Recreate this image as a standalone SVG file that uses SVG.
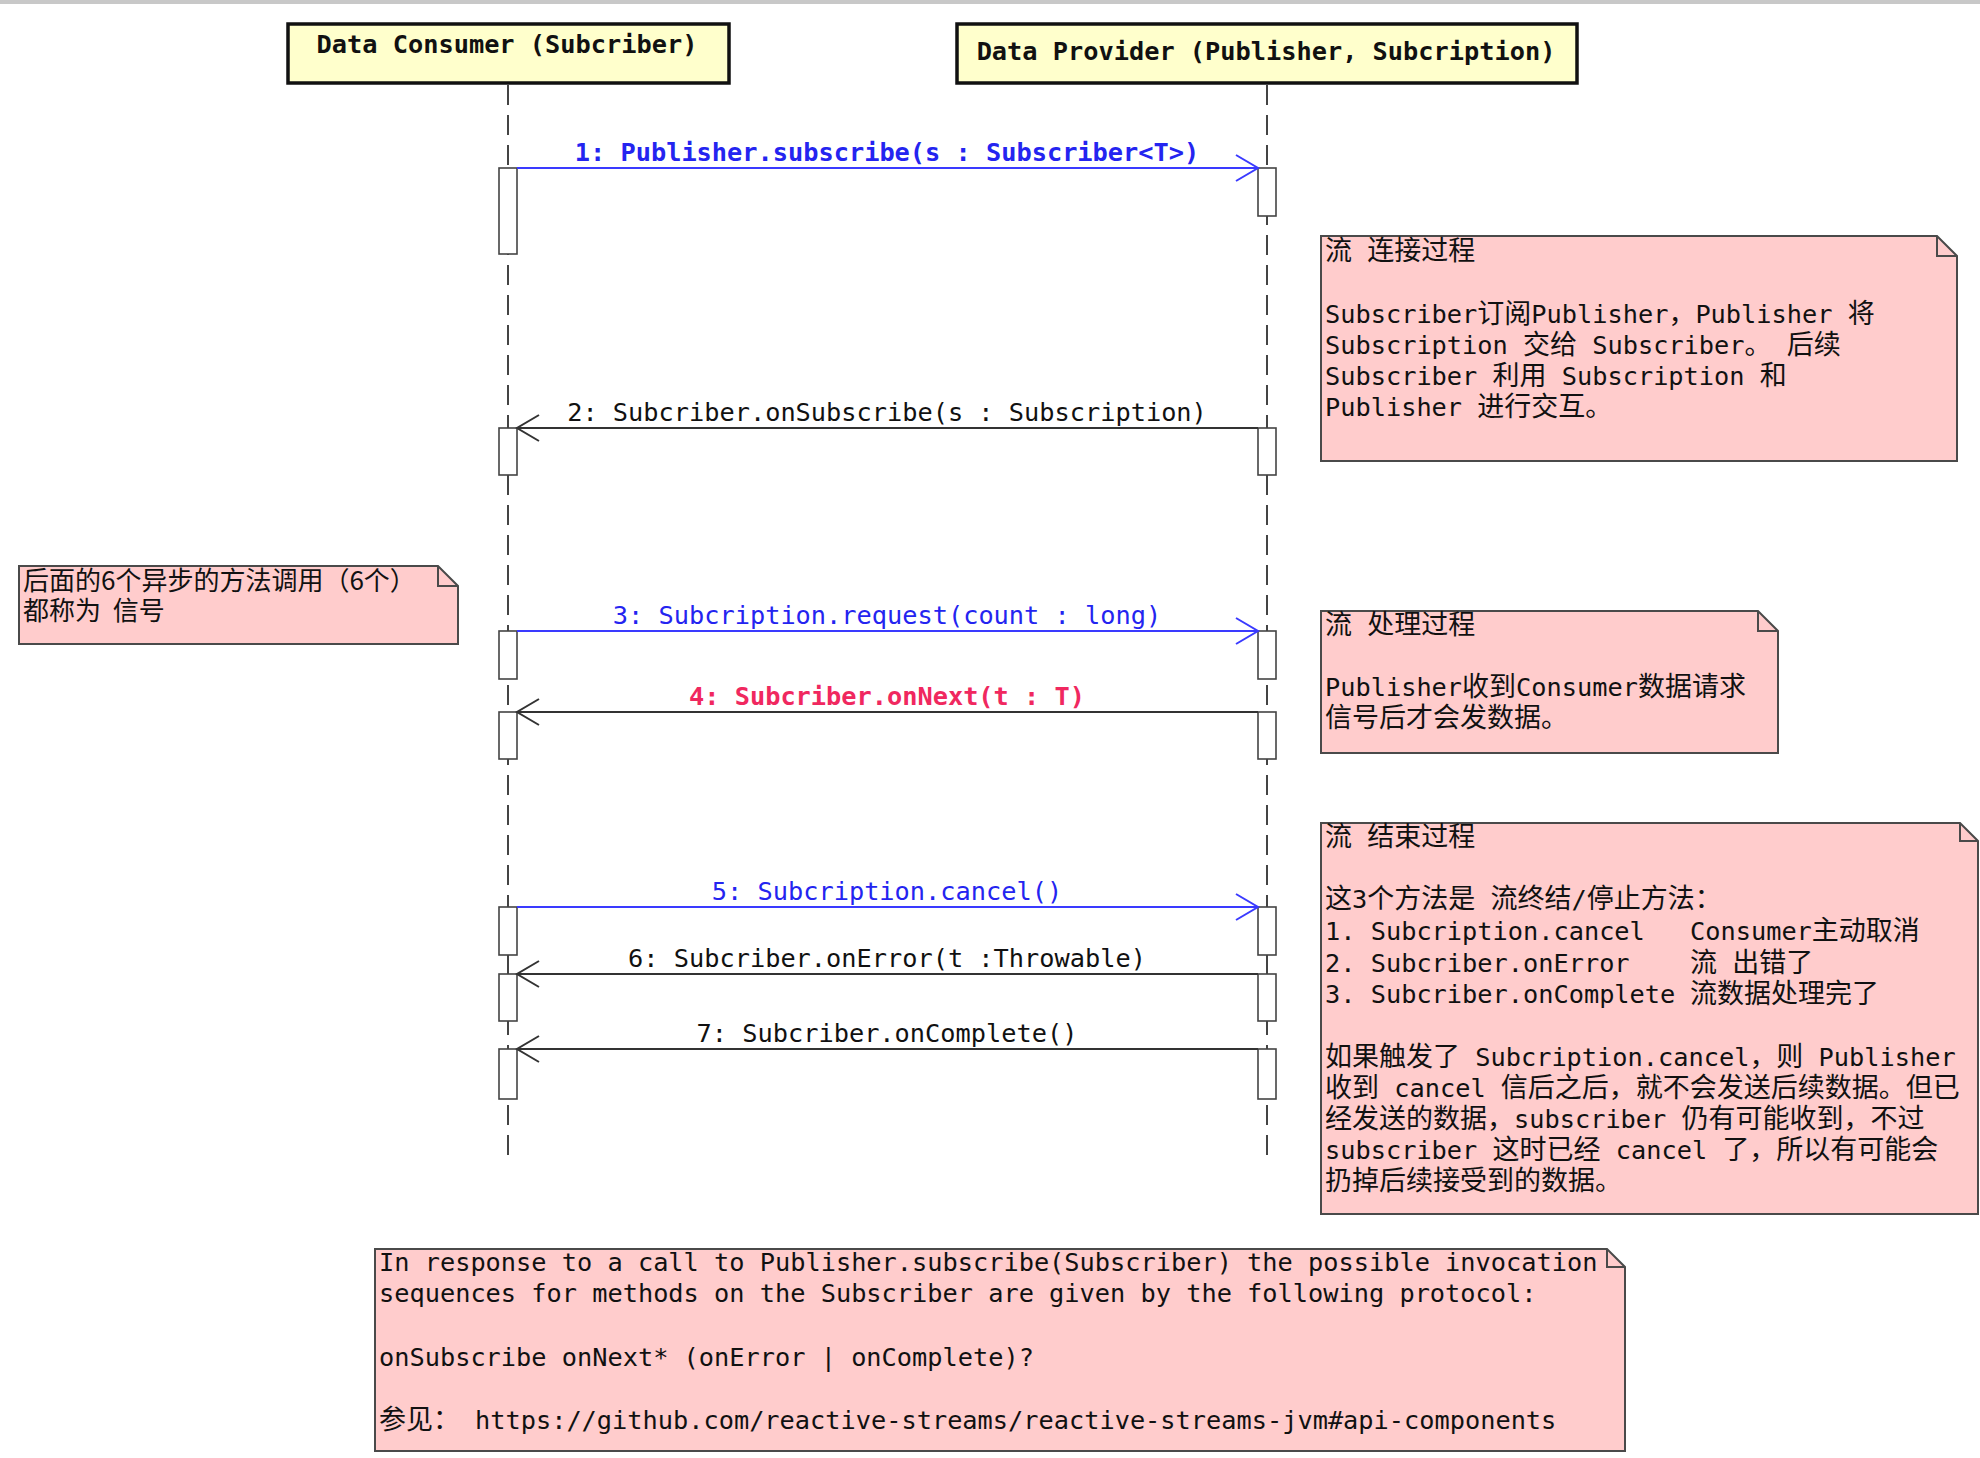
<svg xmlns="http://www.w3.org/2000/svg" width="1980" height="1458" viewBox="0 0 1980 1458">
<style>
.m{font-family:"DejaVu Sans Mono","Liberation Mono","Noto Sans CJK SC",monospace;font-size:25.3px;fill:#111}
.k{font-family:"Noto Sans CJK SC",sans-serif;font-size:27px}
.b{font-weight:bold}
.lbl{text-anchor:middle}
.blue{fill:#2424f0}
.red{fill:#f0285f}
.hdr{fill:#ffffcc;stroke:#111;stroke-width:3.5}
.note{fill:#ffcccc;stroke:#4a4a4a;stroke-width:2}
.fold{fill:none;stroke:#4a4a4a;stroke-width:2}
.life{stroke:#444;stroke-width:2;stroke-dasharray:20 10;fill:none}
.bar{fill:#fff;stroke:#444;stroke-width:1.6}
.call{stroke:#3a3aff;stroke-width:2;fill:none}
.ret{stroke:#333;stroke-width:2;fill:none}
.cj{font-family:"Noto Sans CJK SC",sans-serif;font-size:26px;fill:#111}
</style>
<defs>
<marker id="ab" markerUnits="userSpaceOnUse" markerWidth="26" markerHeight="30" refX="23" refY="14" orient="auto"><path d="M1,1 L23,14 L1,27" fill="none" stroke="#3a3aff" stroke-width="2"/></marker>
<marker id="ak" markerUnits="userSpaceOnUse" markerWidth="26" markerHeight="30" refX="23" refY="14" orient="auto"><path d="M1,1 L23,14 L1,27" fill="none" stroke="#333" stroke-width="2"/></marker>
</defs>
<rect x="0" y="0" width="1980" height="4" fill="#c8c8c8"/>

<g id="consumer">
<rect class="hdr" x="288" y="24" width="441" height="59"/>
<text class="m b lbl" x="507" y="53">Data Consumer (Subcriber)</text>
<line class="life" x1="508" y1="85" x2="508" y2="1162"/>
<rect class="bar" x="499" y="168" width="18" height="86"/>
<rect class="bar" x="499" y="428" width="18" height="47"/>
<rect class="bar" x="499" y="631" width="18" height="48"/>
<rect class="bar" x="499" y="712" width="18" height="47"/>
<rect class="bar" x="499" y="907" width="18" height="48"/>
<rect class="bar" x="499" y="974" width="18" height="47"/>
<rect class="bar" x="499" y="1049" width="18" height="50"/>
</g>

<g id="provider">
<rect class="hdr" x="957" y="24" width="620" height="59"/>
<text class="m b lbl" x="1266" y="60">Data Provider (Publisher, Subcription)</text>
<line class="life" x1="1267" y1="85" x2="1267" y2="1162"/>
<rect class="bar" x="1258" y="168" width="18" height="48"/>
<rect class="bar" x="1258" y="428" width="18" height="47"/>
<rect class="bar" x="1258" y="631" width="18" height="48"/>
<rect class="bar" x="1258" y="712" width="18" height="47"/>
<rect class="bar" x="1258" y="907" width="18" height="48"/>
<rect class="bar" x="1258" y="974" width="18" height="47"/>
<rect class="bar" x="1258" y="1049" width="18" height="50"/>
</g>

<g id="connectors">
<path class="call" d="M517,168 H1258" marker-end="url(#ab)"/>
<text class="m b lbl blue" x="887" y="161" xml:space="preserve">1: Publisher.subscribe(s : Subscriber&lt;T&gt;)</text>
<path class="ret" d="M1258,428 H517" marker-end="url(#ak)"/>
<text class="m lbl" x="887" y="421" xml:space="preserve">2: Subcriber.onSubscribe(s : Subscription)</text>
<path class="call" d="M517,631 H1258" marker-end="url(#ab)"/>
<text class="m lbl blue" x="887" y="624" xml:space="preserve">3: Subcription.request(count : long)</text>
<path class="ret" d="M1258,712 H517" marker-end="url(#ak)"/>
<text class="m b lbl red" x="887" y="705" xml:space="preserve">4: Subcriber.onNext(t : T)</text>
<path class="call" d="M517,907 H1258" marker-end="url(#ab)"/>
<text class="m lbl blue" x="887" y="900" xml:space="preserve">5: Subcription.cancel()</text>
<path class="ret" d="M1258,974 H517" marker-end="url(#ak)"/>
<text class="m lbl" x="887" y="967" xml:space="preserve">6: Subcriber.onError(t :Throwable)</text>
<path class="ret" d="M1258,1049 H517" marker-end="url(#ak)"/>
<text class="m lbl" x="887" y="1042" xml:space="preserve">7: Subcriber.onComplete()</text>
</g>

<g id="note-connect">
<path class="note" d="M1321,236 H1937 L1957,256 V461 H1321 Z"/>
<path class="fold" d="M1937,236 V256 H1957"/>
<text class="m" x="1325" y="260" xml:space="preserve"><tspan class="k">流</tspan> <tspan class="k">连接过程</tspan></text>
<text class="m" x="1325" y="323" xml:space="preserve">Subscriber<tspan class="k">订阅</tspan>Publisher<tspan class="k">，</tspan>Publisher <tspan class="k">将</tspan></text>
<text class="m" x="1325" y="354" xml:space="preserve">Subscription <tspan class="k">交给</tspan> Subscriber<tspan class="k">。</tspan> <tspan class="k">后续</tspan></text>
<text class="m" x="1325" y="385" xml:space="preserve">Subscriber <tspan class="k">利用</tspan> Subscription <tspan class="k">和</tspan></text>
<text class="m" x="1325" y="416" xml:space="preserve">Publisher <tspan class="k">进行交互。</tspan></text>
</g>

<g id="note-signal">
<path class="note" d="M19,566 H438 L458,586 V644 H19 Z"/>
<path class="fold" d="M438,566 V586 H458"/>
<text class="cj" x="23" y="590">后面的6个异步的方法调用（6个）</text>
<text class="cj" x="23" y="620" xml:space="preserve">都称为  信号</text>
</g>

<g id="note-process">
<path class="note" d="M1321,611 H1758 L1778,631 V753 H1321 Z"/>
<path class="fold" d="M1758,611 V631 H1778"/>
<text class="m" x="1325" y="634" xml:space="preserve"><tspan class="k">流</tspan> <tspan class="k">处理过程</tspan></text>
<text class="m" x="1325" y="696" xml:space="preserve">Publisher<tspan class="k">收到</tspan>Consumer<tspan class="k">数据请求</tspan></text>
<text class="m" x="1325" y="727" xml:space="preserve"><tspan class="k">信号后才会发数据。</tspan></text>
</g>

<g id="note-end">
<path class="note" d="M1321,823 H1960 L1978,841 V1214 H1321 Z"/>
<path class="fold" d="M1960,823 V841 H1978"/>
<text class="m" x="1325" y="846" xml:space="preserve"><tspan class="k">流</tspan> <tspan class="k">结束过程</tspan></text>
<text class="m" x="1325" y="908" xml:space="preserve"><tspan class="k">这</tspan>3<tspan class="k">个方法是</tspan> <tspan class="k">流终结</tspan>/<tspan class="k">停止方法：</tspan></text>
<text class="m" x="1325" y="940" xml:space="preserve">1. Subcription.cancel<tspan x="1690">Consumer<tspan class="k">主动取消</tspan></tspan></text>
<text class="m" x="1325" y="972" xml:space="preserve">2. Subcriber.onError<tspan x="1690"><tspan class="k">流</tspan> <tspan class="k">出错了</tspan></tspan></text>
<text class="m" x="1325" y="1003" xml:space="preserve">3. Subcriber.onComplete<tspan x="1690"><tspan class="k">流数据处理完了</tspan></tspan></text>
<text class="m" x="1325" y="1066" xml:space="preserve"><tspan class="k">如果触发了</tspan> Subcription.cancel<tspan class="k">，则</tspan> Publisher</text>
<text class="m" x="1325" y="1097" xml:space="preserve"><tspan class="k">收到</tspan> cancel <tspan class="k">信后之后，就不会发送后续数据。但已</tspan></text>
<text class="m" x="1325" y="1128" xml:space="preserve"><tspan class="k">经发送的数据，</tspan>subscriber <tspan class="k">仍有可能收到，不过</tspan></text>
<text class="m" x="1325" y="1159" xml:space="preserve">subscriber <tspan class="k">这时已经</tspan> cancel <tspan class="k">了，所以有可能会</tspan></text>
<text class="m" x="1325" y="1190" xml:space="preserve"><tspan class="k">扔掉后续接受到的数据。</tspan></text>
</g>

<g id="note-protocol">
<path class="note" d="M375,1249 H1607 L1625,1267 V1451 H375 Z"/>
<path class="fold" d="M1607,1249 V1267 H1625"/>
<text class="m" x="379" y="1271" xml:space="preserve">In response to a call to Publisher.subscribe(Subscriber) the possible invocation</text>
<text class="m" x="379" y="1302" xml:space="preserve">sequences for methods on the Subscriber are given by the following protocol:</text>
<text class="m" x="379" y="1366" xml:space="preserve">onSubscribe onNext* (onError | onComplete)?</text>
<text class="m" x="379" y="1429" xml:space="preserve"><tspan class="k">参见：</tspan><tspan x="475">https://github.com/reactive-streams/reactive-streams-jvm#api-components</tspan></text>
</g>
</svg>
